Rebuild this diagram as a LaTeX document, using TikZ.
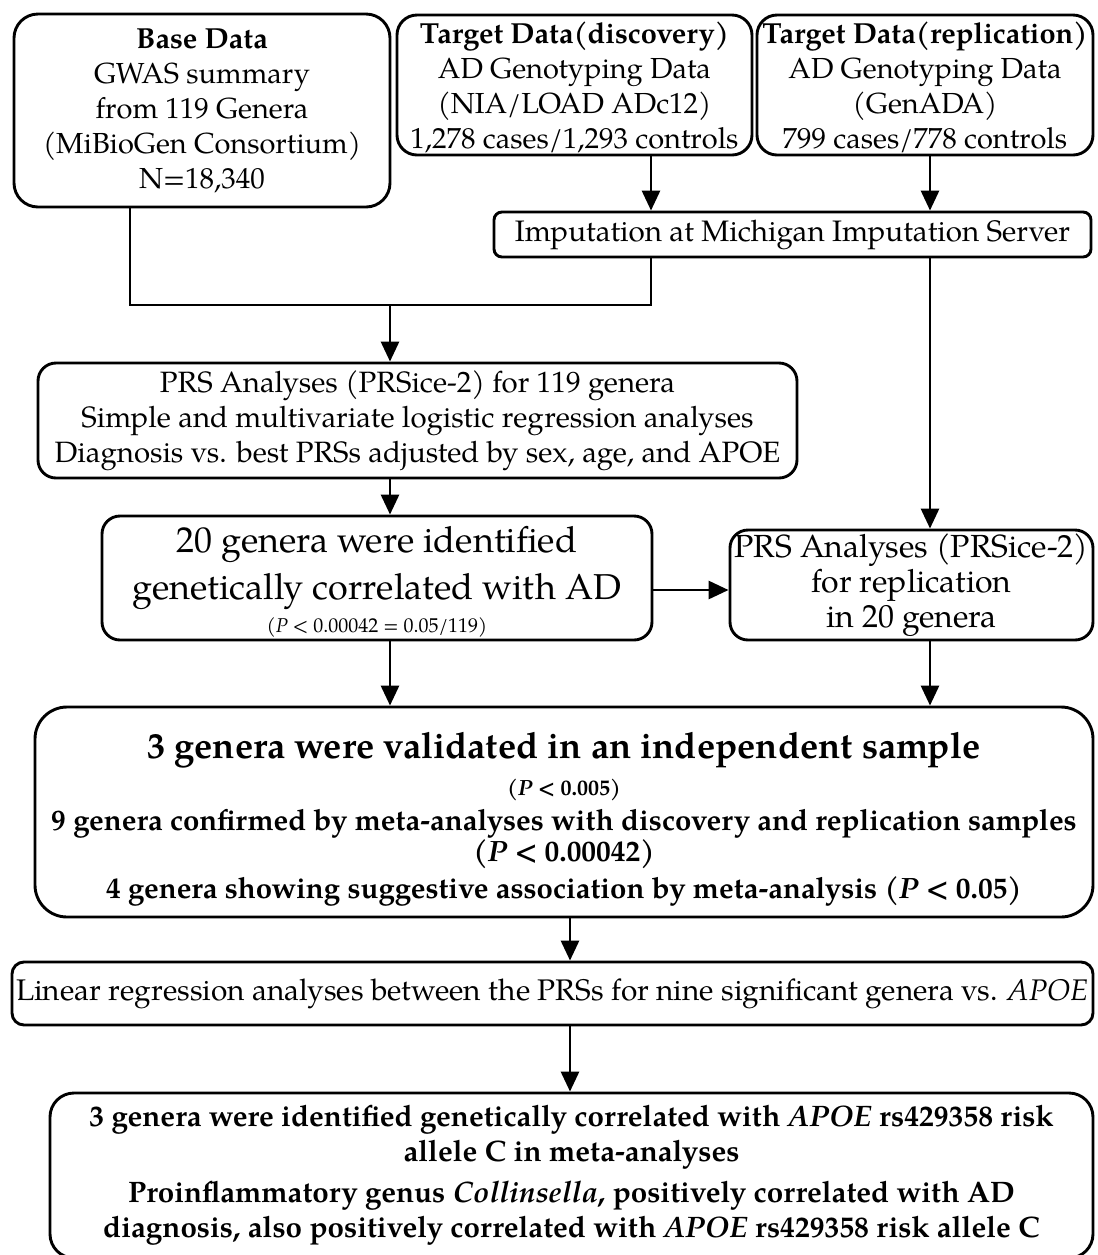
\documentclass[tikz,border=0pt]{standalone}
\usepackage{fontspec}
\setmainfont{TeX Gyre Pagella}
\usetikzlibrary{arrows.meta}
\tikzset{
  box/.style={draw, line width=1.45pt, rounded corners=#1, align=center, inner sep=0pt, font=\fontsize{14.5}{17.5}\selectfont},
  box/.default=10pt,
  arr/.style={line width=1.45pt, -{Triangle[length=10pt,width=9pt]}},
  ln/.style={line width=1.45pt},
}
\newcommand{\bigf}{\fontsize{18}{21.5}\selectfont}
\begin{document}
\begin{tikzpicture}[x=0.5pt,y=-0.5pt]
\useasboundingbox (0,0) rectangle (1098,1255);
% boxes
\node[box=12pt, minimum width=188pt, minimum height=96.5pt] (base) at (202,110.5)
  {\textbf{Base Data}\\GWAS summary\\from 119 Genera\\(MiBioGen Consortium)\\N=18,340};
\node[box=10pt, minimum width=177.5pt, minimum height=70pt] (disc) at (574.5,85)
  {\rule{0pt}{13pt}\textbf{Target Data(discovery)}\\AD Genotyping Data\\(NIA/LOAD ADc12)\\1,278 cases/1,293 controls};
\node[box=10pt, minimum width=168pt, minimum height=70pt] (repl) at (925,85)
  {\rule{0pt}{13pt}\textbf{Target Data(replication)}\\AD Genotyping Data\\(GenADA)\\799 cases/778 controls};
\node[box=4pt, minimum width=298.5pt, minimum height=22.5pt, font=\fontsize{14.8}{17.5}\selectfont] (imp) at (792.5,234.5)
  {Imputation at Michigan Imputation Server};
\node[box=9pt, minimum width=379.5pt, minimum height=57.5pt, font=\fontsize{14.7}{17.5}\selectfont] (prs) at (417.5,420.5)
  {PRS Analyses (PRSice-2) for 119 genera\\Simple and multivariate logistic regression analyses\\Diagnosis vs. best PRSs adjusted by sex, age, and APOE};
\node[box=9pt, minimum width=275pt, minimum height=62pt] (g20) at (377,578)
  {{\bigf\rule{0pt}{17pt}20 genera were identified}\\[4pt]{\bigf genetically correlated with AD}\\[-1pt]{\fontsize{10}{11}\selectfont (\textit{P} < 0.00042 = 0.05/119)}};
\node[box=9pt, minimum width=181.5pt, minimum height=55pt, font=\fontsize{16}{17.5}\selectfont] (prsr) at (911.5,585)
  {PRS Analyses (PRSice-2)\\for replication\\in 20 genera};
\node[box=16pt, minimum width=529pt, minimum height=105pt, font=\bfseries\fontsize{14.7}{17.5}\selectfont] (big) at (564,812)
  {{\fontsize{18.2}{20}\selectfont\rule{0pt}{20pt}3 genera were validated in an independent sample}\\[1pt]{\fontsize{11}{11}\selectfont (\textit{P} < 0.005)}\\9 genera confirmed by meta-analyses with discovery and replication samples\\[-2pt](\textit{P} < 0.00042)\\[1pt]4 genera showing suggestive association by meta-analysis (\textit{P} < 0.05)};
\node[box=6pt, minimum width=540.5pt, minimum height=31.5pt, font=\fontsize{14.9}{17.5}\selectfont] (lin) at (552.5,993.5)
  {Linear regression analyses between the PRSs for nine significant genera vs. \textit{APOE}};
\node[box=12pt, minimum width=521.5pt, minimum height=82.5pt, font=\bfseries\fontsize{14.8}{17.5}\selectfont] (last) at (571.5,1175.5)
  {3 genera were identified genetically correlated with \textit{APOE} rs429358 risk\\allele C in meta-analyses\\[3pt]Proinflammatory genus \textit{Collinsella}, positively correlated with AD\\diagnosis, also positively correlated with \textit{APOE} rs429358 risk allele C};
% helper coordinates
\coordinate (cD) at (651,0);
\coordinate (cR) at (930,0);
\coordinate (cB) at (130,0);
\coordinate (cM) at (390,305);
\coordinate (cL) at (390,0);
\coordinate (cC) at (570,0);
\coordinate (cH) at (0,590);
% connectors
\draw[arr] (disc.south -| cD) -- (imp.north -| cD);
\draw[arr] (repl.south -| cR) -- (imp.north -| cR);
\draw[ln] (base.south -| cB) |- (cM) -| (imp.south -| cD);
\draw[arr] (cM) -- (prs.north -| cM);
\draw[arr] (imp.south -| cR) -- (prsr.north -| cR);
\draw[arr] (prs.south -| cL) -- (g20.north -| cL);
\draw[arr] (g20.east |- cH) -- (prsr.west |- cH);
\draw[arr] (g20.south -| cL) -- (big.north -| cL);
\draw[arr] (prsr.south -| cR) -- (big.north -| cR);
\draw[arr] (big.south -| cC) -- (lin.north -| cC);
\draw[arr] (lin.south -| cC) -- (last.north -| cC);
\end{tikzpicture}
\end{document}
